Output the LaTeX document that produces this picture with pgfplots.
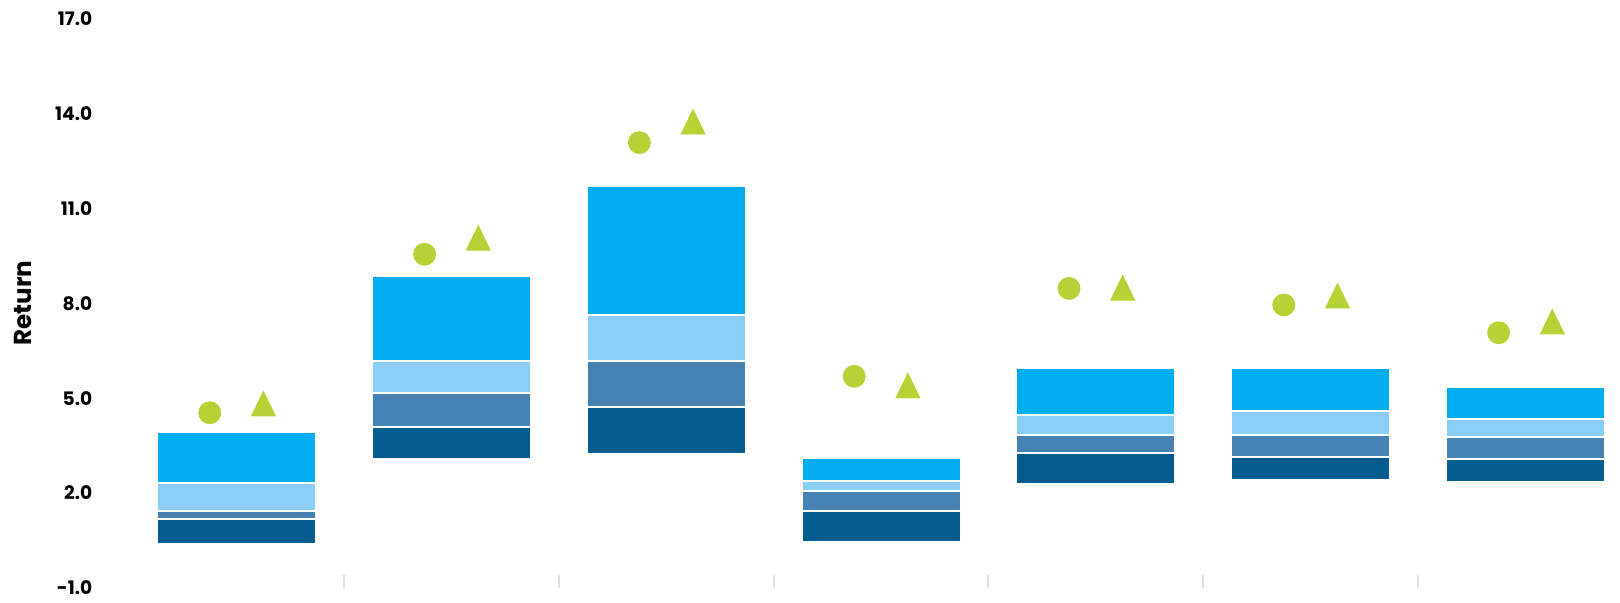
\documentclass[border=0pt]{standalone}
\usepackage{fontspec}
\setmainfont{Poppins}
\usepackage{pgfplots}
\usepackage{pgfplotstable}
\pgfplotsset{compat=1.18}
\definecolor{cBright}{HTML}{00AEEF}
\definecolor{cLight}{HTML}{89CFF8}
\definecolor{cMid}{HTML}{4682B4}
\definecolor{cDark}{HTML}{045C8E}
\definecolor{cGreen}{HTML}{B5D334}
\definecolor{cSep}{HTML}{DDDDDD}

\pgfplotstableread{
x base dark mid light bright
0 0.40 0.79 0.26 0.88 1.60
1 3.07 1.03 1.07 1.01 2.68
2 3.25 1.48 1.45 1.45 4.08
3 0.46 0.98 0.63 0.32 0.72
4 2.30 0.97 0.58 0.63 1.49
5 2.43 0.72 0.70 0.73 1.39
6 2.36 0.72 0.70 0.57 0.99
}\bars

\pgfplotstableread{
x y
-0.125 4.54
0.875 9.55
1.875 13.08
2.875 5.69
3.875 8.47
4.875 7.95
5.875 7.07
}\circles

\pgfplotstableread{
x y
0.125 4.70
1.125 9.94
2.125 13.61
3.125 5.27
4.125 8.36
5.125 8.11
6.125 7.29
}\triangles

\pgfplotsset{
  common/.style={
    scale only axis, width=745.4pt, height=284.7pt,
    xmin=-0.5, xmax=6.44, ymin=-1, ymax=17,
    clip=false,
  }
}

\begin{document}
\begin{tikzpicture}
\begin{axis}[
  common,
  ybar stacked, bar width=0.74,
  axis line style={draw=none},
  xtick={0.5,1.5,2.5,3.5,4.5,5.5}, xticklabels={},
  xtick pos=bottom, tick align=inside, major tick length=6.3pt,
  xtick style={draw=cSep, line width=1pt},
  ytick={-1,2,5,8,11,14,17}, ytick pos=left,
  ytick style={draw=none},
  yticklabel={\pgfmathprintnumber[fixed,fixed zerofill,precision=1,assume math mode=true]{\tick}},
  yticklabel style={font=\bfseries\fontsize{9.3}{10}\selectfont, xshift=-15pt},
  ylabel={Return},
  every axis y label/.style={at={(rel axis cs:-0.0711,0.5)}, rotate=90, anchor=center, font=\bfseries\fontsize{12.3}{13}\selectfont},
]
\addplot[draw=none, fill=none] table[x=x, y=base]{\bars};
\addplot[fill=cDark, draw=white, line width=1pt] table[x=x, y=dark]{\bars};
\addplot[fill=cMid, draw=white, line width=1pt] table[x=x, y=mid]{\bars};
\addplot[fill=cLight, draw=white, line width=1pt] table[x=x, y=light]{\bars};
\addplot[fill=cBright, draw=white, line width=1pt] table[x=x, y=bright]{\bars};
\coordinate (sw) at (rel axis cs:0,0);
\coordinate (ne) at (rel axis cs:1,1);
\end{axis}
\begin{axis}[common, hide axis]
\addplot[only marks, mark=*, mark size=5.5pt, color=cGreen] table[x=x, y=y]{\circles};
\addplot[only marks, mark=triangle*, mark size=6.9pt, mark options={yscale=1.19}, color=cGreen] table[x=x, y=y]{\triangles};
\end{axis}
\pgfresetboundingbox
\path ([xshift=-64.6pt,yshift=-7pt]sw) rectangle ([yshift=9.3pt]ne);
\end{tikzpicture}
\end{document}
